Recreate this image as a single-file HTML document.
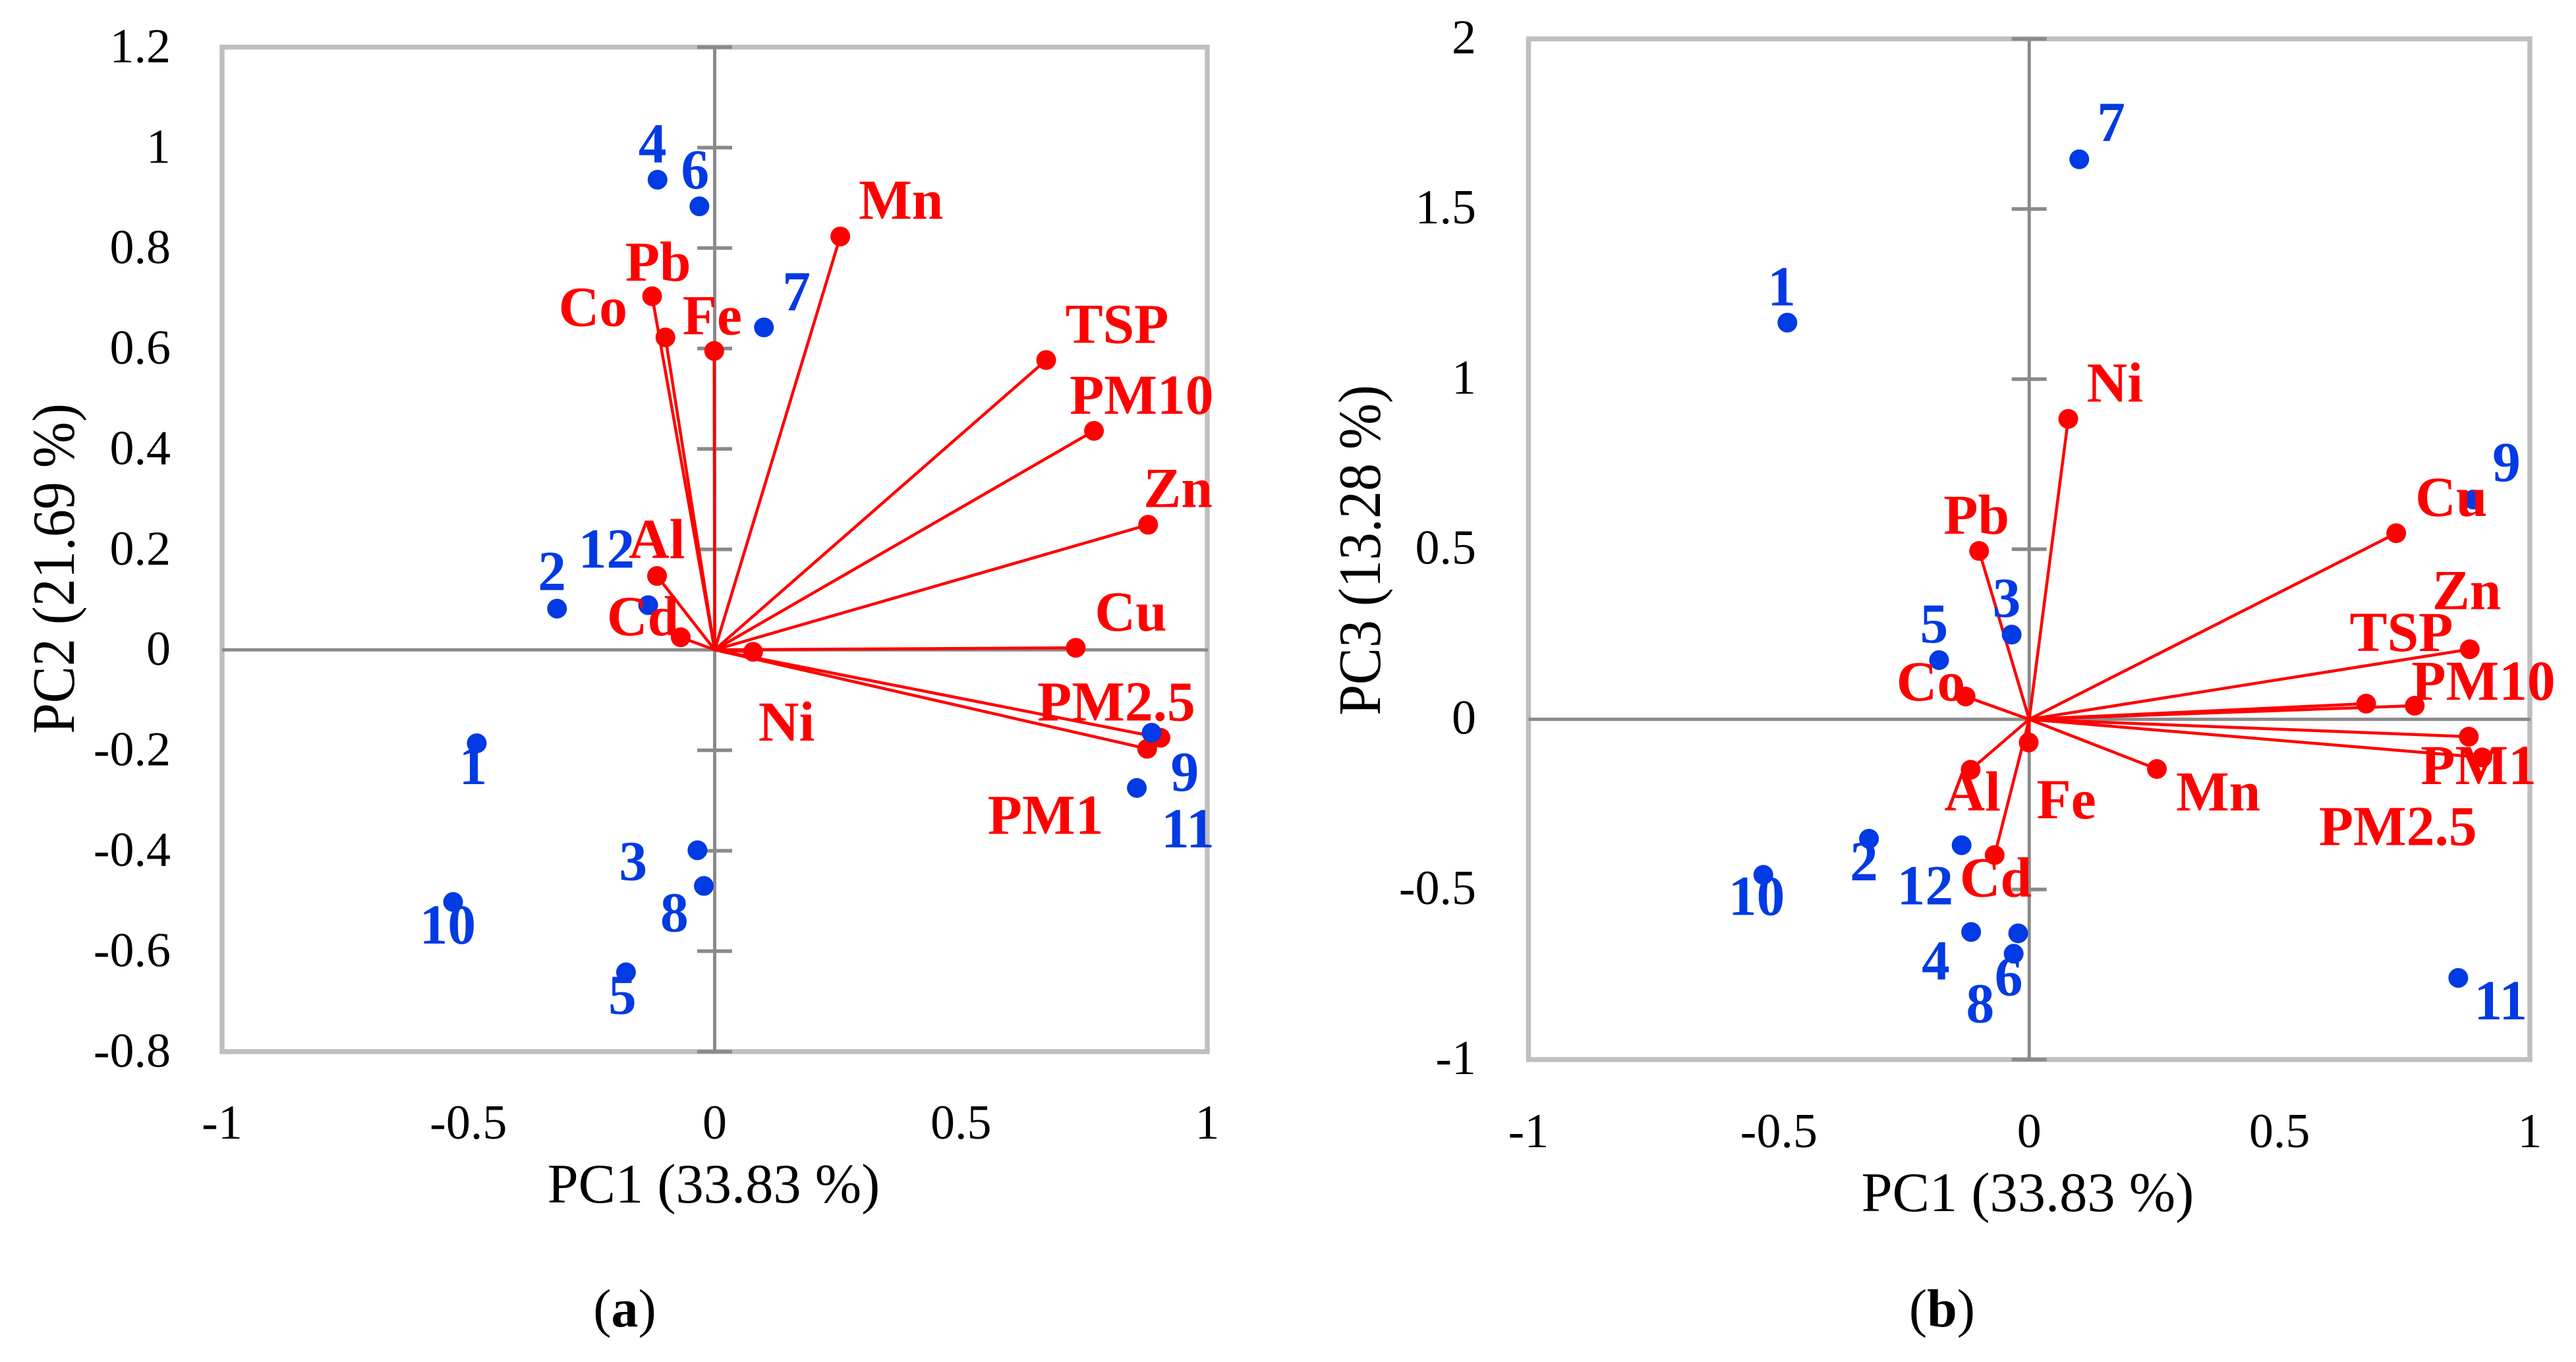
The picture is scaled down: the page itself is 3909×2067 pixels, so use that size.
<!DOCTYPE html>
<html lang="en">
<head>
<meta charset="utf-8">
<title>PCA biplots</title>
<style>
html,body{margin:0;padding:0;background:#fff;}
svg{display:block;font-family:"Liberation Serif",serif;}
</style>
</head>
<body>
<svg id="figure" width="3909" height="2067" viewBox="0 0 3909 2067" xmlns="http://www.w3.org/2000/svg"></svg>
<script>
const variables = ['TSP','PM10','PM2.5','PM1','Al','Cd','Co','Cu','Fe','Mn','Ni','Pb','Zn'];
const pc1Loadings = [0.673,0.770,0.905,0.878,-0.117,-0.069,-0.127,0.733,-0.001,0.255,0.078,-0.100,0.880];
const pc2Loadings = [0.577,0.436,-0.175,-0.197,0.147,0.025,0.704,0.004,0.595,0.823,-0.004,0.622,0.249];
const pc3Loadings = [0.046,0.040,-0.112,-0.051,-0.148,-0.399,0.067,0.547,-0.068,-0.146,0.883,0.495,0.206];
const samples = ['1','2','3','4','5','6','7','8','9','10','11','12'];
const pc1Scores = [-0.483,-0.320,-0.035,-0.116,-0.180,-0.031,0.100,-0.022,0.887,-0.531,0.857,-0.135];
const pc2Scores = [-0.186,0.082,-0.399,0.936,-0.642,0.883,0.642,-0.470,-0.165,-0.502,-0.275,0.089];
const pc3Scores = [1.166,-0.351,0.249,-0.625,0.174,-0.689,1.646,-0.629,0.646,-0.457,-0.760,-0.370];
const xTickLabels = ['-1','-0.5','0','0.5','1'];
const yTickLabelsA = ['-0.8','-0.6','-0.4','-0.2','0','0.2','0.4','0.6','0.8','1','1.2'];
const yTickLabelsB = ['-1','-0.5','0','0.5','1','1.5','2'];

const layoutA = {id:'a',left:337,right:1832,top:71.5,bottom:1596,xMin:-1,xMax:1,yMin:-0.8,yMax:1.2,
  yLabelRight:259,yLabelDy:23,xLabelY:1728,xTitleY:1825,xTitleCx:1083,yTitleX:112,yTitleCy:863,capX:948,
  yTitle:'PC2 (21.69 %)',yTicks:yTickLabelsA,yVar:pc2Loadings,yObs:pc2Scores,
  varOffsets:{'TSP':[29,-26],'PM10':[-37,-26],'PM2.5':[-187,-26],'PM1':[-242,129],'Al':[-43,-27],'Cd':[-112,-3],'Co':[-142,45],'Cu':[29,-26],'Fe':[-48,-25],'Mn':[28,-27],'Ni':[8,135],'Pb':[-61,-86],'Zn':[-7,-27]},
  obsOffsets:{'1':[-27,62],'2':[-29,-28],'3':[-119,45],'4':[-29,-26],'5':[-27,63],'6':[-28,-27],'7':[28,-26],'8':[-66,69],'9':[29,88],'10':[-51,63],'11':[37,90],'12':[-106,-57]}};
const layoutB = {id:'b',left:2319.5,right:3839,top:59,bottom:1608,xMin:-1,xMax:1,yMin:-1,yMax:2,
  yLabelRight:2240,yLabelDy:22,xLabelY:1741,xTitleY:1838,xTitleCx:3077,yTitleX:2094,yTitleCy:835,capX:2947,
  yTitle:'PC3 (13.28 %)',yTicks:yTickLabelsB,yVar:pc3Loadings,yObs:pc3Scores,
  varOffsets:{'TSP':[-25,-80],'PM10':[-5,-9],'PM2.5':[-248,133],'PM1':[-73,72],'Al':[-40,62],'Cd':[-53,63],'Co':[-105,6],'Cu':[29,-26],'Fe':[12,115],'Mn':[29,63],'Ni':[28,-26],'Pb':[-54,-26],'Zn':[-57,-61]},
  obsOffsets:{'1':[-30,-26],'2':[-29,63],'3':[-29,-27],'4':[-75,72],'5':[-29,-27],'6':[-29,63],'7':[27,-28],'8':[-79,135],'9':[29,-28],'10':[-53,61],'11':[24,63],'12':[-98,90]}};

const svg = document.getElementById('figure');
const NS = 'http://www.w3.org/2000/svg';
const GREY_FRAME = '#bfbfbf', GREY_AXIS = '#8a8a8a', RED = '#ff0000', BLUE = '#023ae3';

function shape(tag, attrs, name, parent) {
  const el = document.createElementNS(NS, tag);
  for (const k in attrs) el.setAttribute(k, attrs[k]);
  
  
  parent.appendChild(el);
  return el;
}
function label(str, attrs, name, parent) {
  const el = shape('text', attrs, name, parent);
  el.textContent = str;
  return el;
}

function drawBiplot(p) {
  const g = shape('g', {}, 'biplot-' + p.id, svg);
  const xScale = v => p.left + (v - p.xMin) / (p.xMax - p.xMin) * (p.right - p.left);
  const yScale = v => p.bottom - (v - p.yMin) / (p.yMax - p.yMin) * (p.bottom - p.top);
  const x0 = xScale(0), y0 = yScale(0);

  shape('rect', {x:p.left,y:p.top,width:p.right-p.left,height:p.bottom-p.top,fill:'none',stroke:GREY_FRAME,'stroke-width':7.5}, 'plot-frame', g);
  shape('line', {x1:p.left,x2:p.right+1,y1:y0,y2:y0,stroke:GREY_AXIS,'stroke-width':5}, 'x-axis-line', g);
  shape('line', {x1:x0,x2:x0,y1:p.top,y2:p.bottom,stroke:GREY_AXIS,'stroke-width':5}, 'y-axis-line', g);

  p.yTicks.forEach(t => {
    const y = yScale(parseFloat(t));
    if (parseFloat(t) !== 0) {
      shape('line', {x1:x0-26.5,x2:x0+26.5,y1:y,y2:y,stroke:GREY_AXIS,'stroke-width':5.5}, 'y-tick-mark', g);
    }
    label(t, {x:p.yLabelRight,y:y+p.yLabelDy,'text-anchor':'end','font-size':74,fill:'#000'}, 'y-tick-label', g);
  });
  xTickLabels.forEach(t => {
    label(t, {x:xScale(parseFloat(t)),y:p.xLabelY,'text-anchor':'middle','font-size':74,fill:'#000'}, 'x-tick-label', g);
  });

  label('PC1 (33.83 %)', {x:p.xTitleCx,y:p.xTitleY,'text-anchor':'middle','font-size':84.5,fill:'#000'}, 'x-axis-title', g);
  label(p.yTitle, {x:0,y:0,transform:'translate('+p.yTitleX+' '+p.yTitleCy+') rotate(-90) scale(1 1.08)','text-anchor':'middle','font-size':84,fill:'#000'}, 'y-axis-title', g);

  variables.forEach((v,i) => {
    shape('line', {x1:x0,y1:y0,x2:xScale(pc1Loadings[i]),y2:yScale(p.yVar[i]),stroke:RED,'stroke-width':4.5}, 'loading-vector-' + v.toLowerCase().replace('.','-'), g);
  });
  variables.forEach((v,i) => {
    shape('circle', {cx:xScale(pc1Loadings[i]),cy:yScale(p.yVar[i]),r:15,fill:RED}, 'loading-point-' + v.toLowerCase().replace('.','-'), g);
  });
  samples.forEach((s,i) => {
    shape('circle', {cx:xScale(pc1Scores[i]),cy:yScale(p.yObs[i]),r:15,fill:BLUE}, 'sample-point-' + s, g);
  });
  variables.forEach((v,i) => {
    const o = p.varOffsets[v];
    label(v, {x:xScale(pc1Loadings[i])+o[0],y:yScale(p.yVar[i])+o[1],'font-size':85.5,'font-weight':'bold',fill:RED}, 'loading-label-' + v.toLowerCase().replace('.','-'), g);
  });
  samples.forEach((s,i) => {
    const o = p.obsOffsets[s];
    label(s, {x:xScale(pc1Scores[i])+o[0],y:yScale(p.yObs[i])+o[1],'font-size':85.5,'font-weight':'bold',fill:BLUE}, 'sample-label-' + s, g);
  });

  const cap = label('(', {x:p.capX,y:2013,'text-anchor':'middle','font-size':82,fill:'#000'}, 'panel-caption-' + p.id, g);
  const letter = document.createElementNS(NS, 'tspan');
  letter.setAttribute('font-weight', 'bold');
  
  
  letter.textContent = p.id;
  cap.appendChild(letter);
  cap.appendChild(document.createTextNode(')'));
}

drawBiplot(layoutA);
drawBiplot(layoutB);
</script>
</body>
</html>
